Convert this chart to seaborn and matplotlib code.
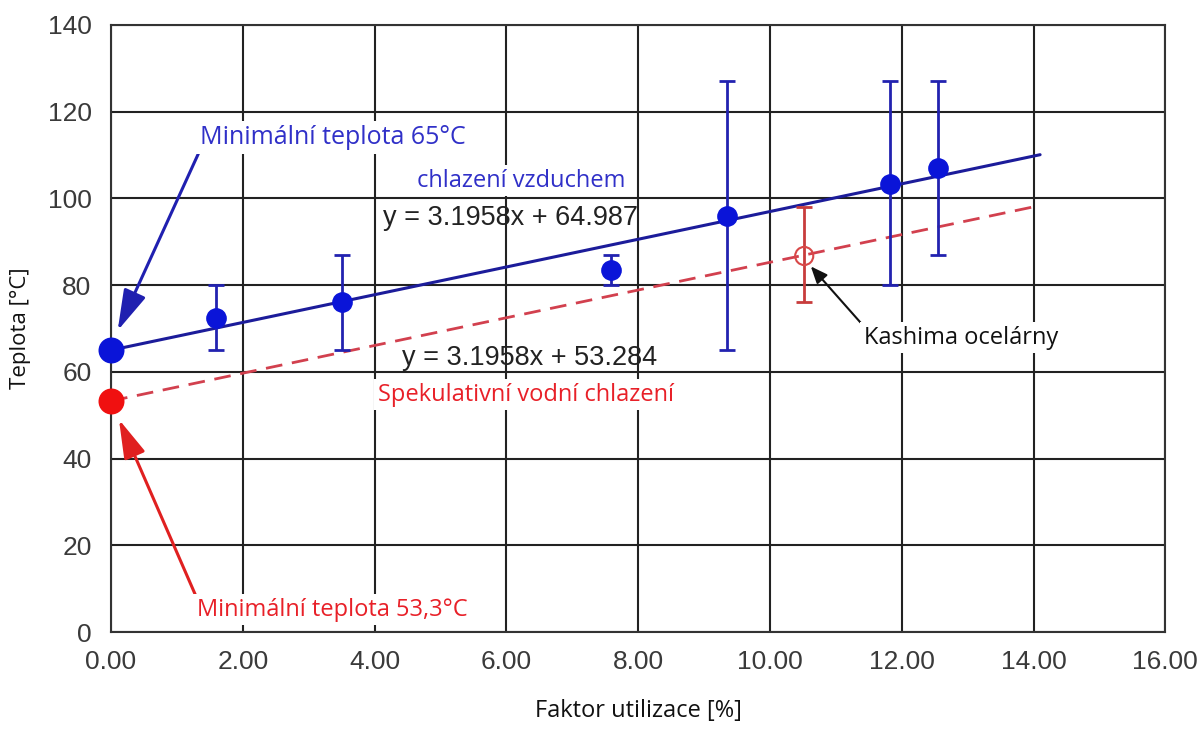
import matplotlib
matplotlib.use("Agg")
import matplotlib.pyplot as plt
import seaborn as sns
import numpy as np
import pandas as pd

# ---- data ----
air_x = [1.60, 3.50, 7.58, 9.35, 11.82, 12.55]
air_y = [72.5, 76.0, 83.5, 96.0, 103.4, 107.0]
air_lo = [65.0, 65.0, 80.0, 65.0, 80.0, 87.0]
air_hi = [80.0, 87.0, 87.0, 127.0, 127.0, 127.0]
air_min = [0.0, 65.0]

kashima_x = [10.52]
kashima_y = [86.7]
kashima_lo = [76.0]
kashima_hi = [98.0]
water_min = [0.0, 53.3]

slope = 3.1958
icpt_air = 64.987
icpt_water = 53.284
fit_x = [0.0, 14.1]

x_ticks = [0, 2, 4, 6, 8, 10, 12, 14, 16]
y_ticks = [0, 20, 40, 60, 80, 100, 120, 140]

sns.set_theme(style="white")
plt.rcParams['font.family'] = ['Liberation Sans', 'DejaVu Sans']

fig = plt.figure(figsize=(11.98, 7.29), dpi=100)
ax = fig.add_axes([0.0927, 0.133, 0.880, 0.833])

BLUE = "#0a14d8"
NAVY = "#1c1c9a"
RED = "#f01010"

# grid
ax.set_xlim(0, 16)
ax.set_ylim(0, 140)
ax.set_xticks(x_ticks)
ax.set_yticks(y_ticks)
ax.set_xticklabels([f"{v:.2f}" for v in x_ticks])
ax.grid(True, color="#222222", linewidth=1.5)
ax.set_axisbelow(True)
for s in ax.spines.values():
    s.set_color("#333333")
    s.set_linewidth(1.5)
ax.tick_params(axis='both', labelsize=19, colors="#3a3a3a", length=0)
ax.tick_params(axis='x', pad=13)
ax.tick_params(axis='y', pad=14)

# fit lines
fx = np.array(fit_x)
df_air = pd.DataFrame({"x": fx, "y": slope * fx + icpt_air})
df_wat = pd.DataFrame({"x": fx, "y": slope * fx + icpt_water})
sns.lineplot(data=df_air, x="x", y="y", ax=ax, color=NAVY, linewidth=2.2, zorder=3)
sns.lineplot(data=df_wat, x="x", y="y", ax=ax, color="#d2404e", linewidth=2.0,
             dashes=False, zorder=3)
ax.lines[-1].set_linestyle((0, (6, 3.5)))

# error bars
ay = np.array(air_y)
ax.errorbar(air_x, air_y, yerr=[ay - np.array(air_lo), np.array(air_hi) - ay],
            fmt="none", ecolor="#2222b0", elinewidth=2, capsize=6, capthick=2, zorder=4)
ky = np.array(kashima_y)
ax.errorbar(kashima_x, kashima_y, yerr=[ky - np.array(kashima_lo), np.array(kashima_hi) - ky],
            fmt="none", ecolor="#c83c3c", elinewidth=2, capsize=6, capthick=2, zorder=4)

# points
sns.scatterplot(x=air_x, y=air_y, ax=ax, color=BLUE, s=190, edgecolor=BLUE, zorder=5)
sns.scatterplot(x=[air_min[0]], y=[air_min[1]], ax=ax, color=BLUE, s=300,
                edgecolor=BLUE, zorder=6, clip_on=False)
sns.scatterplot(x=[water_min[0]], y=[water_min[1]], ax=ax, color=RED, s=300,
                edgecolor=RED, zorder=6, clip_on=False)
ax.scatter(kashima_x, kashima_y, s=170, facecolors="none", edgecolors="#d84848",
           linewidths=1.5, zorder=5)

OS = ["Open Sans", "DejaVu Sans"]

# labels
ax.set_xlabel("Faktor utilizace [%]", fontsize=17, color="#111111",
              family=OS, labelpad=18)
ax.set_ylabel("Teplota [°C]", fontsize=16, color="#111111",
              family=OS, labelpad=12)

bbox = dict(boxstyle="square,pad=0.15", fc="white", ec="none")

ax.annotate("Minimální teplota 65°C", xy=(0.1, 69.5), xytext=(1.35, 114),
            fontsize=18, color="#3030c8", family=OS, va="center", ha="left",
            bbox=bbox,
            arrowprops=dict(arrowstyle="-|>,head_length=1.4,head_width=0.4",
                            color="#2020b0", lw=2.2, shrinkA=0, shrinkB=0,
                            relpos=(0.0, 0.0)))
ax.text(4.65, 104, "chlazení vzduchem", fontsize=17, color="#3030c8", family=OS,
        va="center", ha="left", bbox=bbox, zorder=7)
ax.text(4.12, 95.5, "y = 3.1958x + 64.987", fontsize=19.5, color="#222222",
        va="center", ha="left", zorder=7)
ax.text(4.42, 63.2, "y = 3.1958x + 53.284", fontsize=19.5, color="#222222",
        va="center", ha="left", zorder=7)
ax.text(4.05, 54.7, "Spekulativní vodní chlazení", fontsize=17, color="#e82028",
        family=OS, va="center", ha="left", bbox=bbox, zorder=7)
ax.annotate("Kashima ocelárny", xy=(10.62, 84.3), xytext=(11.42, 67.8),
            fontsize=17, color="#111111", family=OS, va="center", ha="left",
            bbox=bbox,
            arrowprops=dict(arrowstyle="-|>,head_length=0.6,head_width=0.25",
                            color="#111111", lw=1.5, shrinkA=0, shrinkB=0,
                            relpos=(0.0, 1.0)))
ax.annotate("Minimální teplota 53,3°C", xy=(0.12, 49.0), xytext=(1.3, 5.1),
            fontsize=17, color="#e82028", family=OS, va="center", ha="left",
            bbox=bbox,
            arrowprops=dict(arrowstyle="-|>,head_length=1.4,head_width=0.4",
                            color="#e02020", lw=2.2, shrinkA=0, shrinkB=0,
                            relpos=(0.0, 1.0)))

fig.savefig("out.png", dpi=100, facecolor="white")
